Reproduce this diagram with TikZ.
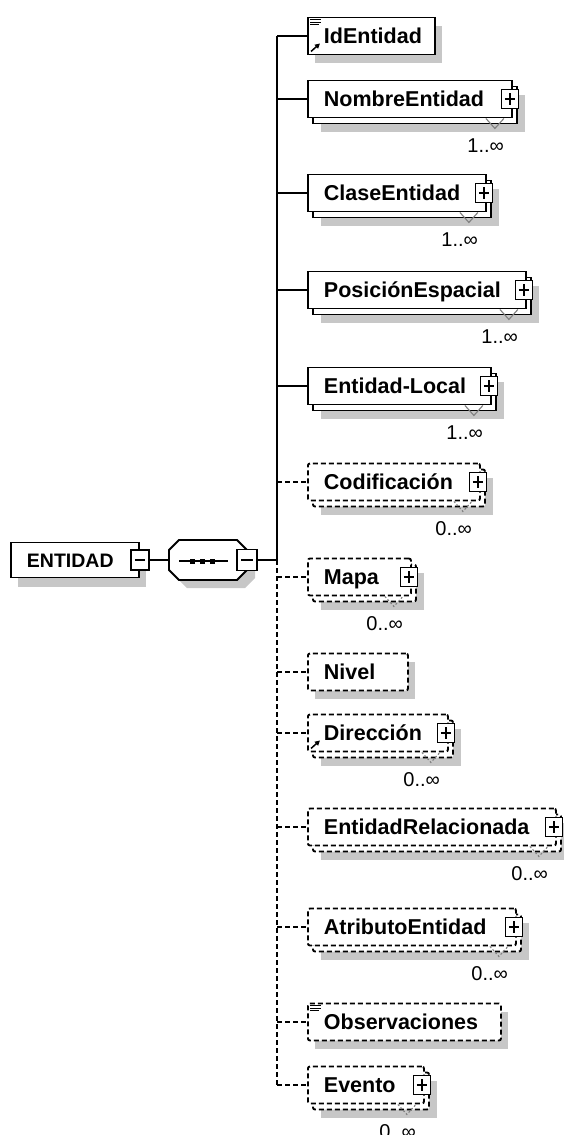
\documentclass[tikz,border=0pt]{standalone}
\usepackage{fontspec}
\setmainfont{Liberation Sans}
\usetikzlibrary{arrows.meta,calc}

\begin{document}
\begin{tikzpicture}[x=1pt,y=-1pt,line width=1.9pt,
    elem/.style={draw,fill=white,anchor=west,inner xsep=16pt,inner ysep=0pt,
      minimum height=37pt,text height=15.5pt,text depth=0pt,
      font=\fontsize{21.5}{24}\selectfont\bfseries},
    opt/.style={dash pattern=on 5pt off 3pt},
    optelem/.style={elem,opt,rounded corners=2pt},
    shadowfill/.style={fill=black!22},
    stack/.style={draw,fill=white},
    pm/.style={draw,fill=white,line width=1.4pt,minimum width=17pt,minimum height=19pt,inner sep=0pt},
    sign/.style={line width=1.4pt},
    tick/.style={draw=black!50,line width=1.1pt},
    occ/.style={anchor=east,inner sep=0pt,font=\fontsize{20}{22}\selectfont},
    seqbox/.style={draw,fill=white}]
  \useasboundingbox (0,0) rectangle (563,1135);

  % root element
  \fill[shadowfill] (18,550) rectangle (146,587);
  \node[elem,minimum height=35pt,font=\fontsize{19.5}{22}\selectfont\bfseries] (entidad) at (10,560) {\makebox[96pt][l]{ENTIDAD}};
  \node[pm,minimum width=18pt,minimum height=20pt] (entidadpm) at (entidad.east) {};
  \draw[sign] (entidadpm.center) +(-5,0) -- +(5,0);

  % sequence compositor
  \node[minimum width=78pt,minimum height=40pt,inner sep=0pt,outer sep=0pt] (seq) at (208,560) {};
  \foreach \o/\s in {8/shadowfill,0/seqbox}
    \path[\s] ($(seq.west)+(\o,\o-10)$) -- ($(seq.north west)+(\o+10,\o)$) -- ($(seq.north east)+(\o-10,\o)$)
      -- ($(seq.east)+(\o,\o-10)$) -- ($(seq.east)+(\o,\o+10)$) -- ($(seq.south east)+(\o-10,\o)$)
      -- ($(seq.south west)+(\o+10,\o)$) -- ($(seq.west)+(\o,\o+10)$) -- cycle;
  \draw[sign] ($(seq.center)+(-29,1)$) -- ($(seq.center)+(20,1)$);
  \foreach \d in {-16,-6,4}
    \fill ($(seq.center)+(\d-2.5,-1.5)$) rectangle +(5,5);
  \node[pm,minimum width=20pt,minimum height=21pt] (seqpm) at (seq.east) {};
  \draw[sign] (seqpm.center) +(-6,0) -- +(6,0);

  \coordinate (spine) at (277,560);
  \draw (entidadpm) -- (seq);
  \draw (seqpm) -- (spine);

  % single children
  \fill[shadowfill] (315,26) rectangle (442,63);
  \node[elem] (id) at (307,36) {\makebox[95pt][l]{IdEntidad}};
  \fill[shadowfill] (315,662) rectangle (415,699);
  \node[optelem] (nivel) at (307,672) {\makebox[68pt][l]{Nivel}};
  \fill[shadowfill] (315,1012) rectangle (508,1049);
  \node[optelem] (obs) at (307,1022) {\makebox[161pt][l]{Observaciones}};

  % required, 1..oo
  \foreach \n/\t/\y/\w in {nombre/NombreEntidad/99/204,clase/ClaseEntidad/193/178,
      posicion/PosiciónEspacial/290/218,local/Entidad-Local/386/183}
  {
    \pgfmathsetmacro\tw{\w-32}
    \fill[shadowfill] (321,\y-4.5) rectangle (321+\w,\y+32.5);
    \path[stack] (313,\y-12.5) rectangle (313+\w,\y+24.5);
    \node[elem] (\n) at (307,\y) {\makebox[\tw pt][l]{\t}};
    \node[pm] (\n pm) at ($(\n.east)+(-3,0)$) {};
    \draw[sign] (\n pm.center) +(-5,0) -- +(5,0) +(0,-6) -- +(0,6);
    \draw[tick] ($(\n.south east)+(-27,0)$) -- ($(\n.south east)+(-18,10)$) -- ($(\n.south east)+(-9,0)$);
    \node[occ] (\n occ) at ($(\n.south east)+(-8,27)$) {1..∞};
    \draw (spine |- \n.west) -- (\n.west);
  }

  % optional, 0..oo
  \foreach \n/\t/\y/\w in {codif/Codificación/482/172,mapa/Mapa/577/103,
      direccion/Dirección/733/140,relac/EntidadRelacionada/827/248,
      atributo/AtributoEntidad/927/208,evento/Evento/1085/116}
  {
    \pgfmathsetmacro\tw{\w-32}
    \fill[shadowfill] (321,\y-4.5) rectangle (321+\w,\y+32.5);
    \path[stack,opt,rounded corners=2pt] (313,\y-12.5) rectangle (313+\w,\y+24.5);
    \node[optelem] (\n) at (307,\y) {\makebox[\tw pt][l]{\t}};
    \node[pm] (\n pm) at ($(\n.east)+(-3,0)$) {};
    \draw[sign] (\n pm.center) +(-5,0) -- +(5,0) +(0,-6) -- +(0,6);
    \draw[tick,dash pattern=on 2pt off 2pt] ($(\n.south east)+(-27,0)$) -- ($(\n.south east)+(-18,10)$) -- ($(\n.south east)+(-9,0)$);
    \node[occ] (\n occ) at ($(\n.south east)+(-8,27)$) {0..∞};
    \draw[opt] (spine |- \n.west) -- (\n.west);
  }

  % spine and remaining connectors
  \draw (spine) -- (spine |- id.west);
  \draw[opt] (spine) -- (spine |- evento.west);
  \draw (spine |- id.west) -- (id.west);
  \foreach \n in {nivel,obs}
    \draw[opt] (spine |- \n.west) -- (\n.west);

  % icons
  \foreach \n in {id,obs}
    \foreach \d/\l in {3/11,5.5/11,8/9}
      \draw[line width=0.9pt] ($(\n.north west)+(3,\d)$) -- +(\l,0);
  \foreach \n in {id,direccion}
    \draw[line width=1.5pt,-{Triangle[length=5pt,width=5pt]}] ($(\n.south west)+(4,-4)$) -- +(9,-8);
\end{tikzpicture}
\end{document}
